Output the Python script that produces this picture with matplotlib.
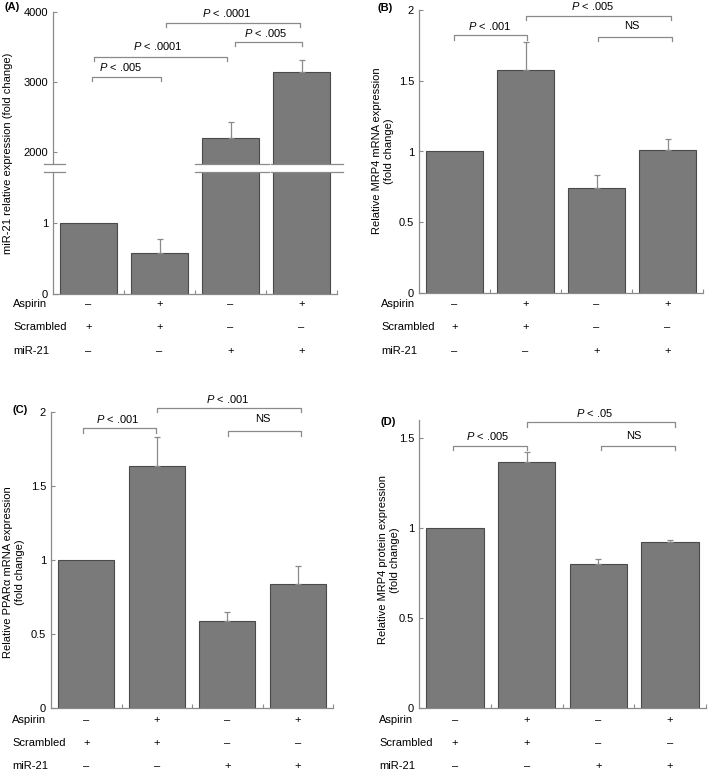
import matplotlib.pyplot as plt
from matplotlib import transforms
from matplotlib.lines import Line2D

plt.rcParams['font.family'] = ['Liberation Sans', 'DejaVu Sans']
plt.rcParams['font.size'] = 8
plt.rcParams['mathtext.fontset'] = 'custom'
plt.rcParams['mathtext.it'] = 'Liberation Sans:italic'
plt.rcParams['mathtext.rm'] = 'Liberation Sans'

# conditions (same for every panel)
row_names = ['Aspirin', 'Scrambled', 'miR-21']
row_signs = [['–', '+', '–', '+'],
             ['+', '+', '–', '–'],
             ['–', '–', '+', '+']]

# (A) miR-21 relative expression
mir21_mean = [1.0, 0.58, 2196, 3147]
mir21_err = [0.0, 0.19, 237, 163]

# (B) MRP4 mRNA
mrp4_mrna_mean = [1.0, 1.578, 0.742, 1.012]
mrp4_mrna_err = [0.0, 0.198, 0.094, 0.077]

# (C) PPARa mRNA
ppara_mean = [1.0, 1.635, 0.59, 0.838]
ppara_err = [0.0, 0.198, 0.056, 0.123]

# (D) MRP4 protein
mrp4_prot_mean = [1.0, 1.365, 0.80, 0.922]
mrp4_prot_err = [0.0, 0.055, 0.029, 0.013]

W, H = 709, 773
fig = plt.figure(figsize=(W / 100, H / 100), dpi=100)

BAR_FC = '#7a7a7a'
BAR_EC = '#4a4a4a'
LINE_C = '#8a8a8a'
x = [0, 1, 2, 3]


def rect(l, t, r, b):
    return [l / W, 1 - b / H, (r - l) / W, (b - t) / H]


def style(ax, bottom=True):
    for s in ['top', 'right']:
        ax.spines[s].set_visible(False)
    ax.spines['bottom'].set_visible(bottom)
    for s in ['left', 'bottom']:
        ax.spines[s].set_color(LINE_C)
        ax.spines[s].set_linewidth(0.9)
    ax.set_xlim(-0.5, 3.5)
    ax.set_xticks([0.5, 1.5, 2.5, 3.5] if bottom else [])
    ax.set_xticklabels([])
    ax.tick_params(direction='in', length=3, color=LINE_C, width=0.8)


def bars(ax, mean, err):
    ax.bar(x, mean, width=0.8, color=BAR_FC, edgecolor=BAR_EC, linewidth=0.8)
    ax.errorbar(x[1:], mean[1:], yerr=[[0, 0, 0], err[1:]], fmt='none',
                ecolor=LINE_C, elinewidth=0.9, capsize=2, capthick=0.9)


def bracket(ax, x0, x1, y, drop, label, ty, tx=None):
    ax.plot([x0, x0, x1, x1], [y - drop, y, y, y - drop], color=LINE_C,
            lw=0.9, clip_on=False)
    if tx is None:
        tx = (x0 + x1) / 2
    ax.text(tx, ty, label, ha='center', va='center', fontsize=8, clip_on=False)


def rows(ax, left_px, ys_px):
    tr = transforms.blended_transform_factory(ax.transData, fig.transFigure)
    for name, signs, yp in zip(row_names, row_signs, ys_px):
        fig.text(left_px / W, 1 - yp / H, name, ha='left', va='center', fontsize=8)
        for xi, s in zip(x, signs):
            ax.text(xi, 1 - yp / H, s, transform=tr, ha='center', va='center',
                    fontsize=8)


def ftext(px, py, s, **kw):
    fig.text(px / W, 1 - py / H, s, ha='center', va='center', **kw)


P = r'$\mathit{P}$'

# ---------- (A) broken axis ----------
axAt = fig.add_axes(rect(53, 12, 337, 164))
axAb = fig.add_axes(rect(53, 172, 337, 294))
bars(axAt, mir21_mean, mir21_err)
bars(axAb, mir21_mean, mir21_err)
axAt.set_ylim(1830, 4000)
axAb.set_ylim(0, 1.72)
axAt.set_yticks([2000, 3000, 4000])
axAb.set_yticks([0, 1])
style(axAt, bottom=False)
style(axAb)
bracket(axAt, 0.05, 1.02, 3071, 60, P + ' < .005', 3214, 0.45)
bracket(axAt, 0.08, 1.95, 3357, 60, P + ' < .0001', 3514, 0.98)
bracket(axAt, 2.06, 3.0, 3571, 60, P + ' < .005', 3700, 2.5)
bracket(axAt, 1.09, 2.98, 3843, 60, P + ' < .0001', 3986, 1.95)
for yb in [164, 172]:
    for x0, x1 in [(44, 65), (195, 269), (271, 343)]:
        fig.add_artist(Line2D([x0 / W, x1 / W], [1 - yb / H, 1 - yb / H],
                              color=LINE_C, lw=0.9, transform=fig.transFigure))
ftext(8, 153, 'miR-21 relative expression (fold change)', rotation=90)
ftext(12, 7, '(A)', fontweight='bold')
rows(axAb, 13, [304, 327, 351])

# ---------- (B) ----------
axB = fig.add_axes(rect(419, 10, 703, 293))
bars(axB, mrp4_mrna_mean, mrp4_mrna_err)
axB.set_ylim(0, 2)
axB.set_yticks([0, 0.5, 1, 1.5, 2])
axB.set_yticklabels(['0', '0.5', '1', '1.5', '2'])
style(axB)
bracket(axB, -0.01, 1.02, 1.82, 0.03, P + ' < .001', 1.885, 0.5)
bracket(axB, 1.0, 3.05, 1.96, 0.03, P + ' < .005', 2.03, 1.95)
bracket(axB, 2.02, 3.06, 1.81, 0.03, 'NS', 1.89, 2.5)
ftext(383, 151, 'Relative MRP4 mRNA expression\n(fold change)', rotation=90)
ftext(385, 8, '(B)', fontweight='bold')
rows(axB, 381, [304, 327, 351])

# ---------- (C) ----------
axC = fig.add_axes(rect(51, 412, 333, 708))
bars(axC, ppara_mean, ppara_err)
axC.set_ylim(0, 2)
axC.set_yticks([0, 0.5, 1, 1.5, 2])
axC.set_yticklabels(['0', '0.5', '1', '1.5', '2'])
style(axC)
bracket(axC, -0.05, 0.99, 1.89, 0.03, P + ' < .001', 1.95, 0.45)
bracket(axC, 1.0, 3.05, 2.03, 0.03, P + ' < .001', 2.09, 2.0)
bracket(axC, 2.01, 3.05, 1.87, 0.03, 'NS', 1.95, 2.5)
ftext(14, 572, 'Relative PPARα mRNA expression\n(fold change)', rotation=90)
ftext(20, 410, '(C)', fontweight='bold')
rows(axC, 12, [720, 743, 766])

# ---------- (D) ----------
axD = fig.add_axes(rect(419, 420, 706, 708))
bars(axD, mrp4_prot_mean, mrp4_prot_err)
axD.set_ylim(0, 1.6)
axD.set_yticks([0, 0.5, 1, 1.5])
axD.set_yticklabels(['0', '0.5', '1', '1.5'])
style(axD)
bracket(axD, -0.03, 1.01, 1.456, 0.025, P + ' < .005', 1.51, 0.45)
bracket(axD, 1.01, 3.07, 1.587, 0.025, P + ' < .05', 1.64, 1.95)
bracket(axD, 2.03, 3.07, 1.456, 0.025, 'NS', 1.51, 2.5)
ftext(389, 560, 'Relative MRP4 protein expression\n(fold change)', rotation=90)
ftext(388, 422, '(D)', fontweight='bold')
rows(axD, 379, [720, 743, 766])

fig.savefig('out.png', dpi=100)
